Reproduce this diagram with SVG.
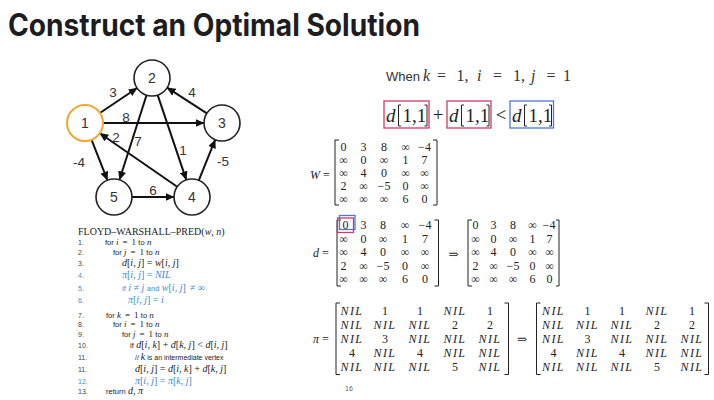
<svg xmlns="http://www.w3.org/2000/svg" width="714" height="400" viewBox="0 0 714 400">
<style>
.title{font-family:Inter,"Liberation Sans",sans-serif;font-weight:700;font-size:31px;fill:#1d1d1f}
.node{fill:#fff;stroke:#222;stroke-width:1.6}
.start{stroke:#f0a830;stroke-width:2}
.nl{font-family:"Liberation Sans",Arial,sans-serif;font-size:14px;fill:#333;text-anchor:middle}
.el{font-family:"Liberation Sans",Arial,sans-serif;font-size:13.5px;fill:#333;text-anchor:middle}
.edge{stroke:#111;stroke-width:2;fill:none}
.ln{font-family:"Liberation Sans",Arial,sans-serif;font-size:7px;fill:#444}
.code{font-family:"Liberation Serif","DejaVu Serif",serif;font-size:10px;fill:#222}
.code.f{font-size:9px}
.blue{fill:#3d8ad0}
.kw{font-family:"Liberation Sans",Arial,sans-serif;font-size:7.5px;font-style:normal}
.cm{font-family:"Liberation Sans",Arial,sans-serif;font-size:7px;font-style:normal}
.v{font-style:italic}
.m{font-family:"Liberation Serif","DejaVu Serif",serif;font-size:12px;fill:#222;text-anchor:middle}
.nil{font-style:italic;letter-spacing:1.4px}
.br{stroke:#222;stroke-width:1;fill:none}
.big{font-family:"Liberation Serif","DejaVu Serif",serif;font-size:19px;fill:#222}
.red{stroke:#d03a66;stroke-width:1.3;fill:none}
.bl{stroke:#4a78d8;stroke-width:1.3;fill:none}
</style>
<defs>
<marker id="arr" markerWidth="9" markerHeight="8" refX="8.5" refY="4" orient="auto" markerUnits="userSpaceOnUse">
<path d="M0,0 L9,4 L0,8 Z" fill="#111"/>
</marker>
</defs>
<rect width="714" height="400" fill="#fff"/>
<text class="title" x="8" y="36" textLength="412" lengthAdjust="spacingAndGlyphs">Construct an Optimal Solution</text>

<g id="connectors">
<line class="edge" x1="99.9" y1="113" x2="137.1" y2="88" marker-end="url(#arr)"/>
<line class="edge" x1="103" y1="123" x2="204" y2="123" marker-end="url(#arr)"/>
<line class="edge" x1="146.5" y1="95.2" x2="119.5" y2="179.8" marker-end="url(#arr)"/>
<line class="edge" x1="157.7" y1="95.1" x2="186.3" y2="179.9" marker-end="url(#arr)"/>
<line class="edge" x1="206.9" y1="113.3" x2="167.1" y2="87.7" marker-end="url(#arr)"/>
<line class="edge" x1="177.2" y1="186.8" x2="99.8" y2="133.2" marker-end="url(#arr)"/>
<line class="edge" x1="91.6" y1="139.8" x2="107.4" y2="180.2" marker-end="url(#arr)"/>
<line class="edge" x1="198.8" y1="180.3" x2="215.2" y2="139.7" marker-end="url(#arr)"/>
<line class="edge" x1="132" y1="197" x2="174" y2="197" marker-end="url(#arr)"/>
<text class="el" x="113" y="97">3</text>
<text class="el" x="126" y="122">8</text>
<text class="el" x="138" y="146">7</text>
<text class="el" x="183" y="155">1</text>
<text class="el" x="192" y="97">4</text>
<text class="el" x="116" y="142">2</text>
<text class="el" x="79" y="167">-4</text>
<text class="el" x="223" y="166">-5</text>
<text class="el" x="153" y="195">6</text>
</g>

<g id="n1"><circle class="node start" cx="85" cy="123" r="18"/><text class="nl" x="85" y="128">1</text></g>
<g id="n2"><circle class="node" cx="152" cy="78" r="18"/><text class="nl" x="152" y="83">2</text></g>
<g id="n3"><circle class="node" cx="222" cy="123" r="18"/><text class="nl" x="222" y="128">3</text></g>
<g id="n4"><circle class="node" cx="192" cy="197" r="18"/><text class="nl" x="192" y="202">4</text></g>
<g id="n5"><circle class="node" cx="114" cy="197" r="18"/><text class="nl" x="114" y="202">5</text></g>

<g id="algorithm">
<text class="code" x="78" y="234.5" font-size="9.3">FLOYD–WARSHALL–PRED(<tspan class="v">w</tspan>, <tspan class="v">n</tspan>)</text>
<text class="ln" x="78" y="245">1.</text>
<text class="ln" x="78" y="255">2.</text>
<text class="ln" x="78" y="266">3.</text>
<text class="ln blue" x="78" y="278">4.</text>
<text class="ln blue" x="78" y="291">5.</text>
<text class="ln blue" x="78" y="303">6.</text>
<text class="ln" x="78" y="317.5">7.</text>
<text class="ln" x="78" y="327">8.</text>
<text class="ln" x="78" y="336.5">9.</text>
<text class="ln" x="78" y="348">10.</text>
<text class="ln" x="78" y="360">11.</text>
<text class="ln" x="78" y="372">11.</text>
<text class="ln blue" x="78" y="384">12.</text>
<text class="ln" x="78" y="394">13.</text>

<text class="code f" x="105" y="245"><tspan class="kw">for</tspan> <tspan class="v">i</tspan><tspan dx="4">=</tspan><tspan dx="4">1</tspan> <tspan class="kw">to</tspan> <tspan class="v">n</tspan></text>
<text class="code f" x="113" y="255"><tspan class="kw">for</tspan> <tspan class="v">j</tspan><tspan dx="4">=</tspan><tspan dx="4">1</tspan> <tspan class="kw">to</tspan> <tspan class="v">n</tspan></text>
<text class="code" x="122" y="266"><tspan class="v">d</tspan>[<tspan class="v">i</tspan>, <tspan class="v">j</tspan>] = <tspan class="v">w</tspan>[<tspan class="v">i</tspan>, <tspan class="v">j</tspan>]</text>
<text class="code blue" x="122" y="278"><tspan class="v">π</tspan>[<tspan class="v">i</tspan>, <tspan class="v">j</tspan>] = <tspan class="v">NIL</tspan></text>
<text class="code blue" x="122" y="291"><tspan class="kw">if</tspan> <tspan class="v">i</tspan> ≠ <tspan class="v">j</tspan> <tspan class="kw">and</tspan> <tspan class="v">w</tspan>[<tspan class="v">i</tspan>, <tspan class="v">j</tspan>]<tspan dx="4">≠</tspan> ∞</text>
<text class="code blue" x="128" y="303"><tspan class="v">π</tspan>[<tspan class="v">i</tspan>, <tspan class="v">j</tspan>] = <tspan class="v">i</tspan></text>
<text class="code f" x="106" y="317.5"><tspan class="kw">for</tspan> <tspan class="v">k</tspan><tspan dx="4">=</tspan><tspan dx="4">1</tspan> <tspan class="kw">to</tspan> <tspan class="v">n</tspan></text>
<text class="code f" x="113" y="327"><tspan class="kw">for</tspan> <tspan class="v">i</tspan><tspan dx="4">=</tspan><tspan dx="4">1</tspan> <tspan class="kw">to</tspan> <tspan class="v">n</tspan></text>
<text class="code f" x="122" y="336.5"><tspan class="kw">for</tspan> <tspan class="v">j</tspan><tspan dx="4">=</tspan><tspan dx="4">1</tspan> <tspan class="kw">to</tspan> <tspan class="v">n</tspan></text>
<text class="code" x="130" y="348"><tspan class="kw">if</tspan> <tspan class="v">d</tspan>[<tspan class="v">i</tspan>, <tspan class="v">k</tspan>] + <tspan class="v">d</tspan>[<tspan class="v">k</tspan>, <tspan class="v">j</tspan>] &lt; <tspan class="v">d</tspan>[<tspan class="v">i</tspan>, <tspan class="v">j</tspan>]</text>
<text class="code" x="135" y="360"><tspan class="cm">// </tspan><tspan class="v">k</tspan><tspan class="cm"> is an intermediate vertex</tspan></text>
<text class="code" x="135" y="372"><tspan class="v">d</tspan>[<tspan class="v">i</tspan>, <tspan class="v">j</tspan>] = <tspan class="v">d</tspan>[<tspan class="v">i</tspan>, <tspan class="v">k</tspan>] + <tspan class="v">d</tspan>[<tspan class="v">k</tspan>, <tspan class="v">j</tspan>]</text>
<text class="code blue" x="135" y="384"><tspan class="v">π</tspan>[<tspan class="v">i</tspan>, <tspan class="v">j</tspan>] = <tspan class="v">π</tspan>[<tspan class="v">k</tspan>, <tspan class="v">j</tspan>]</text>
<text class="code" x="106" y="394"><tspan class="kw">return</tspan> <tspan class="v">d</tspan>, <tspan class="v">π</tspan></text>
</g>

<g id="condition">
<text x="386" y="81" font-family="'Liberation Sans',Arial,sans-serif" font-size="13" fill="#333">When</text>
<g font-family="'Liberation Serif','DejaVu Serif',serif" font-size="16" fill="#333">
<text x="423" y="81" font-style="italic">k</text>
<text x="437" y="81">=</text>
<text x="456.5" y="81">1,</text>
<text x="477" y="81" font-style="italic">i</text>
<text x="493" y="81">=</text>
<text x="513" y="81">1,</text>
<text x="531" y="81" font-style="italic">j</text>
<text x="546.5" y="81">=</text>
<text x="563" y="81">1</text>
</g>
<g transform="translate(384,101)">
<rect class="red" x="0" y="0" width="45" height="27"/>
<text class="big" x="2" y="20.7" font-style="italic">d</text>
<path class="br" d="M17,4 H14.5 V25 H17"/>
<text class="big" x="18.5" y="20.7">1,1</text>
<path class="br" d="M40.5,4 H43 V25 H40.5"/>
</g>
<text class="big" x="438" y="121" text-anchor="middle">+</text>
<g transform="translate(447,101)">
<rect class="red" x="0" y="0" width="44" height="27"/>
<text class="big" x="2" y="20.7" font-style="italic">d</text>
<path class="br" d="M17,4 H14.5 V25 H17"/>
<text class="big" x="18.5" y="20.7">1,1</text>
<path class="br" d="M39.5,4 H42 V25 H39.5"/>
</g>
<text class="big" x="501" y="121" text-anchor="middle">&lt;</text>
<g transform="translate(510,101)">
<rect class="bl" x="0" y="0" width="43.5" height="27"/>
<text class="big" x="2" y="20.7" font-style="italic">d</text>
<path class="br" d="M17,4 H14.5 V25 H17"/>
<text class="big" x="18.5" y="20.7">1,1</text>
<path class="br" d="M39,4 H41.5 V25 H39"/>
</g>
</g>

<g id="W-matrix">
<text class="m" x="320" y="179" font-size="13"><tspan font-style="italic">W</tspan> =</text>
<path class="br" d="M339,140 H335 V205 H339"/>
<path class="br" d="M433,140 H437 V205 H433"/>
<text class="m" x="343.5" y="151">0</text><text class="m" x="363.5" y="151">3</text><text class="m" x="384" y="151">8</text><text class="m" x="405.5" y="151">∞</text><text class="m" x="424.5" y="151">−4</text>
<text class="m" x="343.5" y="164">∞</text><text class="m" x="363.5" y="164">0</text><text class="m" x="384" y="164">∞</text><text class="m" x="405.5" y="164">1</text><text class="m" x="424.5" y="164">7</text>
<text class="m" x="343.5" y="177">∞</text><text class="m" x="363.5" y="177">4</text><text class="m" x="384" y="177">0</text><text class="m" x="405.5" y="177">∞</text><text class="m" x="424.5" y="177">∞</text>
<text class="m" x="343.5" y="190">2</text><text class="m" x="363.5" y="190">∞</text><text class="m" x="384" y="190">−5</text><text class="m" x="405.5" y="190">0</text><text class="m" x="424.5" y="190">∞</text>
<text class="m" x="343.5" y="203">∞</text><text class="m" x="363.5" y="203">∞</text><text class="m" x="384" y="203">∞</text><text class="m" x="405.5" y="203">6</text><text class="m" x="424.5" y="203">0</text>
</g>

<g id="d-matrix">
<text class="m" x="321" y="257" font-size="13"><tspan font-style="italic">d</tspan> =</text>
<path class="br" d="M341,220 H337 V286 H341"/>
<path class="br" d="M434.5,220 H438.5 V286 H434.5"/>
<rect class="red" x="337.5" y="218" width="16" height="14.5"/>
<rect class="bl" x="339.5" y="215.5" width="15.5" height="14"/>
<text class="m" x="345.5" y="229">0</text><text class="m" x="363.5" y="229">3</text><text class="m" x="383" y="229">8</text><text class="m" x="405" y="229">∞</text><text class="m" x="425" y="229">−4</text>
<text class="m" x="343.5" y="242.5">∞</text><text class="m" x="363.5" y="242.5">0</text><text class="m" x="383" y="242.5">∞</text><text class="m" x="405" y="242.5">1</text><text class="m" x="425" y="242.5">7</text>
<text class="m" x="343.5" y="256">∞</text><text class="m" x="363.5" y="256">4</text><text class="m" x="383" y="256">0</text><text class="m" x="405" y="256">∞</text><text class="m" x="425" y="256">∞</text>
<text class="m" x="343.5" y="269.5">2</text><text class="m" x="363.5" y="269.5">∞</text><text class="m" x="383" y="269.5">−5</text><text class="m" x="405" y="269.5">0</text><text class="m" x="425" y="269.5">∞</text>
<text class="m" x="343.5" y="283">∞</text><text class="m" x="363.5" y="283">∞</text><text class="m" x="383" y="283">∞</text><text class="m" x="405" y="283">6</text><text class="m" x="425" y="283">0</text>
<text class="m" x="453.5" y="258" font-size="14">⇒</text>
<path class="br" d="M472,220 H468 V286 H472"/>
<path class="br" d="M556,220 H559 V286 H556"/>
<text class="m" x="475.5" y="229">0</text><text class="m" x="493.5" y="229">3</text><text class="m" x="513" y="229">8</text><text class="m" x="532.5" y="229">∞</text><text class="m" x="549" y="229">−4</text>
<text class="m" x="475.5" y="242.5">∞</text><text class="m" x="493.5" y="242.5">0</text><text class="m" x="513" y="242.5">∞</text><text class="m" x="532.5" y="242.5">1</text><text class="m" x="549.5" y="242.5">7</text>
<text class="m" x="475.5" y="256">∞</text><text class="m" x="493.5" y="256">4</text><text class="m" x="513" y="256">0</text><text class="m" x="532.5" y="256">∞</text><text class="m" x="549.5" y="256">∞</text>
<text class="m" x="475.5" y="269.5">2</text><text class="m" x="493.5" y="269.5">∞</text><text class="m" x="513" y="269.5">−5</text><text class="m" x="532.5" y="269.5">0</text><text class="m" x="549.5" y="269.5">∞</text>
<text class="m" x="475.5" y="283">∞</text><text class="m" x="493.5" y="283">∞</text><text class="m" x="513" y="283">∞</text><text class="m" x="532.5" y="283">6</text><text class="m" x="549.5" y="283">0</text>
</g>

<g id="pi-matrix">
<text class="m" x="321" y="342.5" font-size="13"><tspan font-style="italic">π</tspan> =</text>
<path class="br" d="M340,303 H336 V374.5 H340"/>
<path class="br" d="M504.5,303 H508.5 V374.5 H504.5"/>
<text class="m nil" x="352" y="314.5">NIL</text><text class="m" x="385" y="314.5">1</text><text class="m" x="420" y="314.5">1</text><text class="m nil" x="455" y="314.5">NIL</text><text class="m" x="490" y="314.5">1</text>
<text class="m nil" x="352" y="328.5">NIL</text><text class="m nil" x="385" y="328.5">NIL</text><text class="m nil" x="420" y="328.5">NIL</text><text class="m" x="455" y="328.5">2</text><text class="m" x="490" y="328.5">2</text>
<text class="m nil" x="352" y="342.5">NIL</text><text class="m" x="385" y="342.5">3</text><text class="m nil" x="420" y="342.5">NIL</text><text class="m nil" x="455" y="342.5">NIL</text><text class="m nil" x="490" y="342.5">NIL</text>
<text class="m" x="352" y="356.5">4</text><text class="m nil" x="385" y="356.5">NIL</text><text class="m" x="420" y="356.5">4</text><text class="m nil" x="455" y="356.5">NIL</text><text class="m nil" x="490" y="356.5">NIL</text>
<text class="m nil" x="352" y="370.5">NIL</text><text class="m nil" x="385" y="370.5">NIL</text><text class="m nil" x="420" y="370.5">NIL</text><text class="m" x="455" y="370.5">5</text><text class="m nil" x="490" y="370.5">NIL</text>
<text class="m" x="522" y="343" font-size="14">⇒</text>
<path class="br" d="M540.5,303 H536.5 V374.5 H540.5"/>
<path class="br" d="M704.5,303 H708.5 V374.5 H704.5"/>
<text class="m nil" x="553.5" y="314.5">NIL</text><text class="m" x="587.5" y="314.5">1</text><text class="m" x="622" y="314.5">1</text><text class="m nil" x="657" y="314.5">NIL</text><text class="m" x="692" y="314.5">1</text>
<text class="m nil" x="553.5" y="328.5">NIL</text><text class="m nil" x="587.5" y="328.5">NIL</text><text class="m nil" x="622" y="328.5">NIL</text><text class="m" x="657" y="328.5">2</text><text class="m" x="692" y="328.5">2</text>
<text class="m nil" x="553.5" y="342.5">NIL</text><text class="m" x="587.5" y="342.5">3</text><text class="m nil" x="622" y="342.5">NIL</text><text class="m nil" x="657" y="342.5">NIL</text><text class="m nil" x="692" y="342.5">NIL</text>
<text class="m" x="553.5" y="356.5">4</text><text class="m nil" x="587.5" y="356.5">NIL</text><text class="m" x="622" y="356.5">4</text><text class="m nil" x="657" y="356.5">NIL</text><text class="m nil" x="692" y="356.5">NIL</text>
<text class="m nil" x="553.5" y="370.5">NIL</text><text class="m nil" x="587.5" y="370.5">NIL</text><text class="m nil" x="622" y="370.5">NIL</text><text class="m" x="657" y="370.5">5</text><text class="m nil" x="692" y="370.5">NIL</text>
</g>

<text x="349" y="391" font-family="'Liberation Sans',Arial,sans-serif" font-size="7" fill="#666" text-anchor="middle">16</text>
</svg>
